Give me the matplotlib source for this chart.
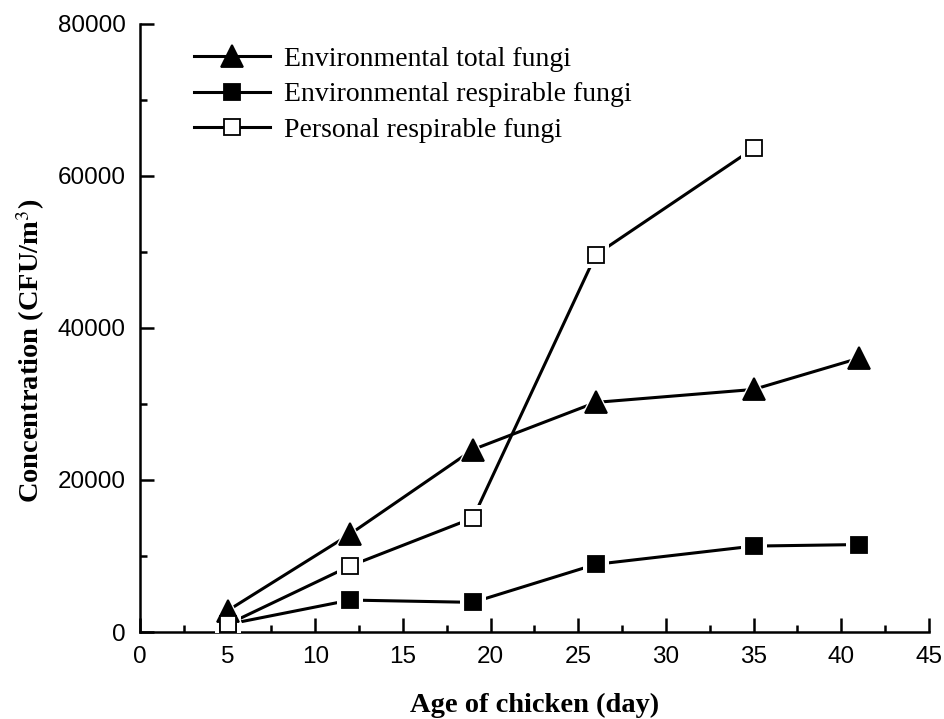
import matplotlib
matplotlib.use("Agg")
import matplotlib.pyplot as plt
from matplotlib.lines import Line2D
from matplotlib.ticker import MultipleLocator

# ── data ──────────────────────────────────────────────────────────────
age_all = [5, 12, 19, 26, 35, 41]
env_total = [2800, 12900, 24000, 30200, 31900, 36000]
env_resp = [1000, 4200, 3900, 8900, 11300, 11500]
age_personal = [5, 12, 19, 26, 35]
personal_resp = [1000, 8700, 15000, 49600, 63600]

LABELS = ["Environmental total fungi", "Environmental respirable fungi",
          "Personal respirable fungi"]

SERIF = "Liberation Serif"
SANS = "Liberation Sans"
plt.rcParams["mathtext.fontset"] = "stix"

fig = plt.figure(figsize=(9.45, 7.19), dpi=100)
ax = fig.add_axes([0.148, 0.121, 0.835, 0.846])

series = [
    (age_all, env_total, "^", "black", 16),
    (age_all, env_resp, "s", "black", 12),
    (age_personal, personal_resp, "s", "white", 12),
]

handles = []
for (xs, ys, mk, face, ms), lab in zip(series, LABELS):
    ax.plot(xs, ys, "-", color="black", linewidth=2.2, zorder=2)
    # white halo so the line stops short of each marker
    ax.plot(xs, ys, mk, color="white", markersize=ms + 7, linestyle="none",
            markeredgewidth=0, zorder=3)
    ax.plot(xs, ys, mk, markerfacecolor=face, markeredgecolor="black",
            markersize=ms, markeredgewidth=1.3, linestyle="none", zorder=4)
    handles.append(Line2D([], [], color="black", linewidth=2.2, marker=mk,
                          markerfacecolor=face, markeredgecolor="black",
                          markersize=ms, markeredgewidth=1.3, label=lab))

ax.set_xlim(0, 45)
ax.set_ylim(0, 80000)
ax.xaxis.set_major_locator(MultipleLocator(5))
ax.xaxis.set_minor_locator(MultipleLocator(2.5))
ax.yaxis.set_major_locator(MultipleLocator(20000))
ax.yaxis.set_minor_locator(MultipleLocator(10000))

for side in ["top", "right"]:
    ax.spines[side].set_visible(False)
for side in ["left", "bottom"]:
    ax.spines[side].set_linewidth(1.8)

ax.tick_params(which="major", direction="in", length=10, width=1.8,
               labelsize=17.5)
ax.tick_params(axis="y", which="major", pad=10)
ax.tick_params(axis="x", which="major", pad=10)
ax.tick_params(which="minor", direction="in", length=5, width=1.8)
for lbl in ax.get_xticklabels() + ax.get_yticklabels():
    lbl.set_fontfamily(SANS)

ax.set_xlabel("Age of chicken (day)", fontfamily=SERIF, fontweight="bold",
              fontsize=20.5, labelpad=18)
ax.set_ylabel(r"Concentration (CFU/m$^{3}$)", fontfamily=SERIF,
              fontweight="bold", fontsize=20.5, labelpad=8)
ax.yaxis.label.set_y(0.462)

ax.legend(handles=handles, loc="upper left", bbox_to_anchor=(0.037, 1.004),
          frameon=False, prop={"family": SERIF, "size": 20},
          handlelength=2.75, handletextpad=0.5, labelspacing=0.37)

fig.savefig("out.png", dpi=100)
